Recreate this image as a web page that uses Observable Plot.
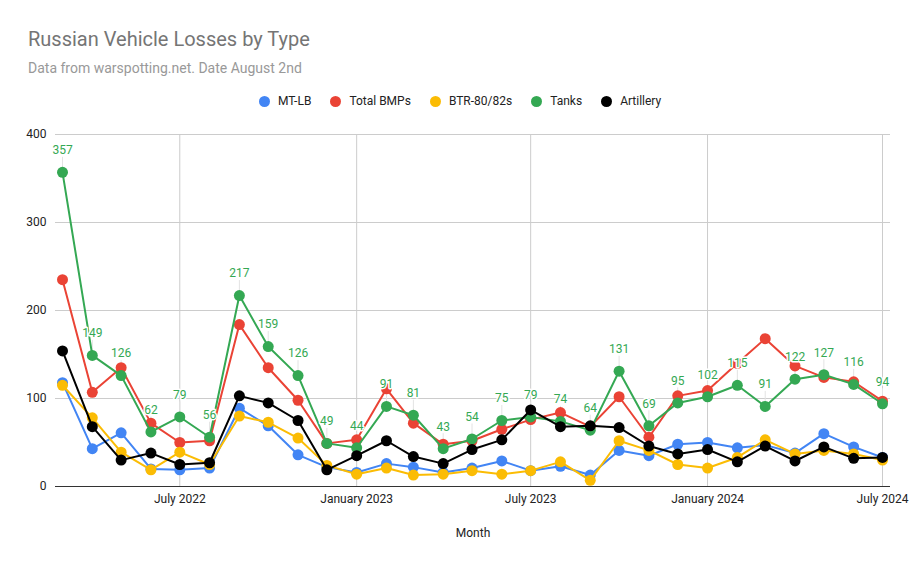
<!DOCTYPE html>
<html>
<head>
<meta charset="utf-8">
<script src="https://cdn.jsdelivr.net/npm/d3@7"></script>
<script src="https://cdn.jsdelivr.net/npm/@observablehq/plot@0.6"></script>
<style>
  body { margin: 0; background: #fff; font-family: Roboto, Arial, sans-serif; }
  #wrap { width: 918px; height: 567px; position: relative; overflow: hidden; }
  #header { position: relative; width: 918px; height: 120px; }
  .title { position: absolute; left: 28px; top: 29px; font-size: 20px; line-height: 20px; color: #757575; white-space: nowrap; }
  .sub { position: absolute; left: 28px; top: 61px; font-size: 14px; line-height: 14px; color: #999999; white-space: nowrap; }
  #legend { position: absolute; left: 259px; top: 94px; height: 14px; display: flex; align-items: center; gap: 19px; font-size: 12px; color: #222; }
  .item { display: flex; align-items: center; gap: 8px; white-space: nowrap; }
  .dot { width: 11px; height: 11px; border-radius: 50%; display: inline-block; }
  svg { display: block; }
</style>
</head>
<body>
<div id="wrap">
  <div id="header">
    <div class="title">Russian Vehicle Losses by Type</div>
    <div class="sub">Data from warspotting.net. Date August 2nd</div>
    <div id="legend"></div>
  </div>
  <div id="chart"></div>
</div>
<script>
const months = ["2022-03","2022-04","2022-05","2022-06","2022-07","2022-08","2022-09","2022-10","2022-11","2022-12",
  "2023-01","2023-02","2023-03","2023-04","2023-05","2023-06","2023-07","2023-08","2023-09","2023-10","2023-11","2023-12",
  "2024-01","2024-02","2024-03","2024-04","2024-05","2024-06","2024-07"];
const mtlb  = [118,43,61,20,19,21,89,69,36,22,16,26,22,16,21,29,18,23,13,41,35,48,50,44,47,38,60,45,33];
const bmps  = [235,107,135,72,50,52,184,135,98,49,53,111,72,48,52,65,76,84,68,102,56,103,109,140,168,137,124,119,97];
const btr   = [115,78,39,19,39,25,80,73,55,24,14,21,13,14,18,14,18,28,7,52,41,25,21,33,53,37,41,37,30];
const tanks = [357,149,126,62,79,56,217,159,126,49,44,91,81,43,54,75,79,74,64,131,69,95,102,115,91,122,127,116,94];
const arty  = [154,68,30,38,25,27,103,95,75,19,35,52,34,26,42,53,87,68,69,67,46,37,42,28,46,29,45,32,33];

const seriesNames = ["MT-LB","Total BMPs","BTR-80/82s","Tanks","Artillery"];
const seriesColors = ["#4285f4","#ea4335","#fbbc04","#34a853","#000000"];
const seriesValues = [mtlb, bmps, btr, tanks, arty];

const xTickLabels = ["2022-07","2023-01","2023-07","2024-01","2024-07"];
const yTicks = [0,100,200,300,400];

const parse = s => new Date(s + "-01T00:00:00Z");

// legend
const legend = document.getElementById("legend");
seriesNames.forEach((n, i) => {
  const it = document.createElement("div");
  it.className = "item";
  it.innerHTML = `<span class="dot" style="background:${seriesColors[i]}"></span><span>${n}</span>`;
  legend.appendChild(it);
});

const series = seriesNames.map((name, i) => ({
  name, color: seriesColors[i],
  data: months.map((m, j) => ({date: parse(m), value: seriesValues[i][j], name}))
}));

const plotHeight = 447, mTop = 14, mBottom = 81;
const pxPerUnit = (plotHeight - mTop - mBottom) / 400;
const leaderPx = 15;

const marks = [
  Plot.ruleY(yTicks.filter(d => d > 0), {stroke: "#cccccc", strokeWidth: 1}),
  Plot.ruleX(xTickLabels.map(parse), {stroke: "#cccccc", strokeWidth: 1}),
  Plot.ruleY([0], {stroke: "#333333", strokeWidth: 1}),
  Plot.axisY({ticks: yTicks, tickSize: 0, tickPadding: 9, label: null}),
  Plot.axisX({ticks: xTickLabels.map(parse), tickFormat: d3.utcFormat("%B %Y"), tickSize: 0, tickPadding: 8,
    label: "Month", labelAnchor: "center", labelArrow: "none", labelOffset: 50}),
  // faint annotation leader lines
  Plot.ruleX(series[3].data, {x: "date", y1: "value", y2: d => d.value + leaderPx / pxPerUnit, stroke: "#e3e3e3", strokeWidth: 1})
];
series.forEach(s => {
  marks.push(Plot.line(s.data, {x: "date", y: "value", stroke: s.color, strokeWidth: 2}));
  marks.push(Plot.dot(s.data, {x: "date", y: "value", fill: s.color, r: 5.5, stroke: "none"}));
});
marks.push(Plot.text(series[3].data, {x: "date", y: "value", text: d => String(d.value), dy: -22,
  fill: "#34a853", stroke: "white", strokeWidth: 3, fontSize: 12}));

const chart = Plot.plot({
  width: 918, height: plotHeight,
  marginTop: mTop, marginBottom: mBottom, marginLeft: 55, marginRight: 28,
  x: {type: "utc", domain: [parse(months[0]), parse(months[months.length - 1])], insetLeft: 7, insetRight: 8},
  y: {domain: [0, 400]},
  style: {fontFamily: "Roboto, Arial, sans-serif", fontSize: "12px", color: "#222", background: "white", overflow: "visible"},
  marks
});
document.getElementById("chart").appendChild(chart);
</script>
</body>
</html>
